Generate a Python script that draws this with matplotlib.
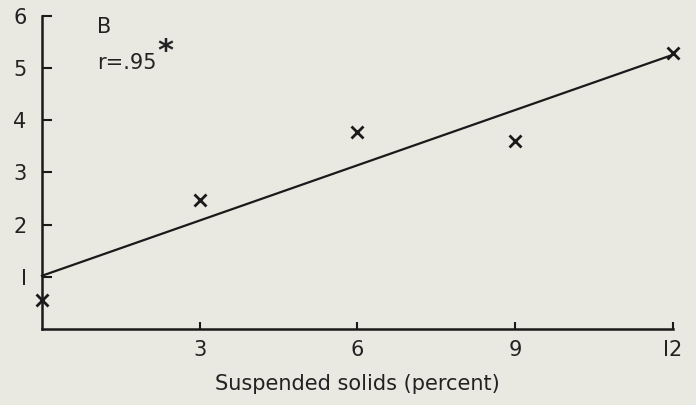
import numpy as np
import matplotlib.pyplot as plt

# values
solids = [0, 3, 6, 9, 12]
response = [0.56, 2.47, 3.77, 3.60, 5.29]
xticks = [3, 6, 9, 12]
yticks = [1, 2, 3, 4, 5, 6]
ytick_labels = ['I', '2', '3', '4', '5', '6']
xtick_labels = ['3', '6', '9', 'I2']

bg = '#e9e9e2'
ink = '#222222'
plt.rcParams['font.family'] = ['DejaVu Sans']

fig = plt.figure(figsize=(6.96, 4.05), dpi=100, facecolor=bg)
ax = fig.add_axes([0.0603, 0.1877, 0.9066, 0.773], facecolor=bg)

# fitted line
slope, intercept = np.polyfit(solids, response, 1)
xs = np.array([0, 12])
ax.plot(xs, intercept + slope * xs, color='#1a1a1a', lw=1.6, clip_on=False)
ax.plot(solids, response, 'x', color='#1a1a1a', ms=8, mew=2, clip_on=False)

ax.set_xlim(0, 12)
ax.set_ylim(0, 6)
for s in ['top', 'right']:
    ax.spines[s].set_visible(False)
for s in ['left', 'bottom']:
    ax.spines[s].set_linewidth(1.8)
    ax.spines[s].set_color('#1a1a1a')

ax.set_xticks(xticks)
ax.set_xticklabels(xtick_labels)
ax.set_yticks(yticks)
ax.set_yticklabels(ytick_labels)
ax.tick_params(direction='in', width=1.5, color='#1a1a1a',
               labelsize=15, labelcolor=ink)
ax.tick_params(axis='y', pad=11, length=7)
ax.tick_params(axis='x', pad=8, length=5)

ax.set_xlabel('Suspended solids (percent)', fontsize=15, color=ink, labelpad=10)

ax.text(0.088, 0.965, 'B', transform=ax.transAxes, fontsize=15, color=ink, va='center')
ax.text(0.088, 0.85, 'r=.95', transform=ax.transAxes, fontsize=15, color=ink, va='center')
ax.text(0.195, 0.885, '*', transform=ax.transAxes, fontsize=22, color=ink,
        ha='center', va='center', fontweight='bold')

plt.savefig('out.png', dpi=100, facecolor=bg)
